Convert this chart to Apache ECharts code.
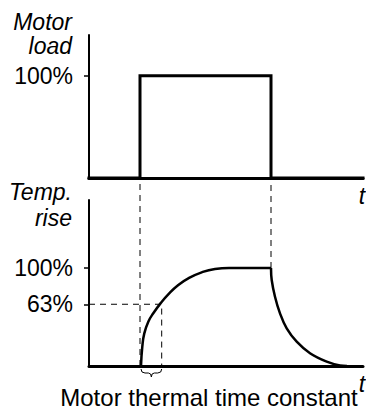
<!DOCTYPE html>
<html>
<head>
<meta charset="utf-8">
<script src="https://cdn.jsdelivr.net/npm/echarts@6/dist/echarts.min.js"></script>
<style>
html,body{margin:0;padding:0;background:#fff;}
#c{width:366px;height:410px;}
</style>
</head>
<body>
<div id="c"></div>
<script>
// ---- data (time in arbitrary units, values in %) ----
const timeMax = 274;
const loadTime  = [0, 51, 51, 182, 182, 274];
const loadValue = [0, 0, 100, 100, 0, 0];
const loadTicks = [100];

const riseTime  = [52, 53.3, 55.3, 59.3, 64.3, 72, 79.3, 89.3, 99.3, 112.7, 126, 140, 161, 182];
const riseValue = [0, 19.7, 33.3, 45.2, 53.8, 64.6, 73.2, 82.7, 89.5, 95.6, 99, 100, 100, 100];
const decayTime  = [182, 182.7, 186, 191, 197.7, 207.7, 221, 237.7, 251, 258];
const decayValue = [100, 87.8, 70.7, 53.7, 38.4, 24.8, 13, 4.4, 0.5, 0];
const tempTicks = [63, 100];

const loadOnTime = 51, loadOffTime = 182;
const tauLevel = 63, tauStart = 52, tauTime = 72.7;
const guideTop = 189.8;

const FONT = "'Liberation Sans', Arial, sans-serif";
const zip = (a, b) => a.map((v, i) => [v, b[i]]);

const chart = echarts.init(document.getElementById('c'), null, {renderer: 'svg'});

const xAx = (gi) => ({
  type: 'value', gridIndex: gi, min: 0, max: timeMax,
  axisLine: {show: gi !== 2, lineStyle: {color: '#000', width: 3}},
  axisTick: {show: false}, axisLabel: {show: false}, splitLine: {show: false}
});
const yAx = (gi, max, ticks) => ({
  type: 'value', gridIndex: gi, min: 0, max: max,
  axisLine: {show: !!ticks, onZero: false, lineStyle: {color: '#000', width: 2}},
  axisTick: ticks ? {show: true, inside: false, length: 5, customValues: ticks, lineStyle: {color: '#000', width: 1.5}} : {show: false},
  axisLabel: ticks ? {show: true, customValues: ticks, formatter: '{value}%', margin: 16,
    color: '#000', fontSize: 23, fontFamily: FONT} : {show: false},
  splitLine: {show: false}
});

const dash = {color: '#000', width: 1, type: [6, 5]};

chart.setOption({
  animation: false,
  backgroundColor: '#fff',
  grid: [
    {left: 89, width: 274, top: 35, height: 143},
    {left: 89, width: 274, top: 200, height: 166},
    {left: 89, width: 274, top: 178, height: 188}
  ],
  xAxis: [xAx(0), xAx(1), xAx(2)],
  yAxis: [yAx(0, 140, loadTicks), yAx(1, 166 / 0.98, tempTicks), yAx(2, 188 / 0.98, null)],
  series: [
    {type: 'line', xAxisIndex: 2, yAxisIndex: 2, symbol: 'none', clip: false, silent: true,
     data: [[loadOnTime, 0], [loadOnTime, guideTop]], lineStyle: dash},
    {type: 'line', xAxisIndex: 2, yAxisIndex: 2, symbol: 'none', clip: false, silent: true,
     data: [[loadOffTime, 100], [loadOffTime, guideTop]], lineStyle: dash},
    {type: 'line', xAxisIndex: 1, yAxisIndex: 1, symbol: 'none', clip: false, silent: true,
     data: [[0, tauLevel], [tauTime, tauLevel], [tauTime, 0]], lineStyle: dash},
    {type: 'line', xAxisIndex: 0, yAxisIndex: 0, symbol: 'none', clip: false,
     data: zip(loadTime, loadValue), lineStyle: {color: '#000', width: 3, join: 'miter', cap: 'square'}},
    {type: 'line', xAxisIndex: 1, yAxisIndex: 1, symbol: 'none', clip: false, smooth: 0.5,
     data: zip(riseTime, riseValue), lineStyle: {color: '#000', width: 2.5}},
    {type: 'line', xAxisIndex: 1, yAxisIndex: 1, symbol: 'none', clip: false, smooth: 0.4,
     data: zip(decayTime, decayValue), lineStyle: {color: '#000', width: 2.5}}
  ]
});

const p1 = chart.convertToPixel({xAxisIndex: 1, yAxisIndex: 1}, [tauStart, 0]);
const p2 = chart.convertToPixel({xAxisIndex: 1, yAxisIndex: 1}, [tauTime, 0]);
const x1 = p1[0], x2 = p2[0], xm = (x1 + x2) / 2, y0 = p1[1] + 3;
const bs = {stroke: '#000', lineWidth: 1, fill: null};
const bez = (a, b, c, d, e, f) => ({type: 'bezierCurve', silent: true,
  shape: {x1: a, y1: b, x2: c, y2: d, cpx1: e, cpy1: f}, style: bs});
const seg = (a, b, c, d) => ({type: 'line', silent: true, shape: {x1: a, y1: b, x2: c, y2: d}, style: bs});

const txt = (x, y, text, size, align, italic) => ({
  type: 'text', x: x, y: y, silent: true,
  style: {text: text, fill: '#000', font: (italic ? 'italic ' : '') + size + 'px ' + FONT,
    textAlign: align, textVerticalAlign: 'middle'}
});

chart.setOption({
  graphic: [
    bez(x1, y0, x1 + 4, y0 + 4, x1, y0 + 4),
    seg(x1 + 4, y0 + 4, xm - 3, y0 + 4),
    bez(xm - 3, y0 + 4, xm, y0 + 8, xm, y0 + 4),
    bez(xm, y0 + 8, xm + 3, y0 + 4, xm, y0 + 4),
    seg(xm + 3, y0 + 4, x2 - 4, y0 + 4),
    bez(x2 - 4, y0 + 4, x2, y0, x2, y0 + 4),
    txt(72, 22, 'Motor', 23, 'right', true),
    txt(72, 46, 'load', 23, 'right', true),
    txt(72, 192, 'Temp.', 23, 'right', true),
    txt(72, 218, 'rise', 23, 'right', true),
    txt(362, 196, 't', 23, 'center', true),
    txt(362, 384, 't', 23, 'center', true),
    txt(209, 397, 'Motor thermal time constant', 24, 'center', false)
  ]
});
</script>
</body>
</html>
